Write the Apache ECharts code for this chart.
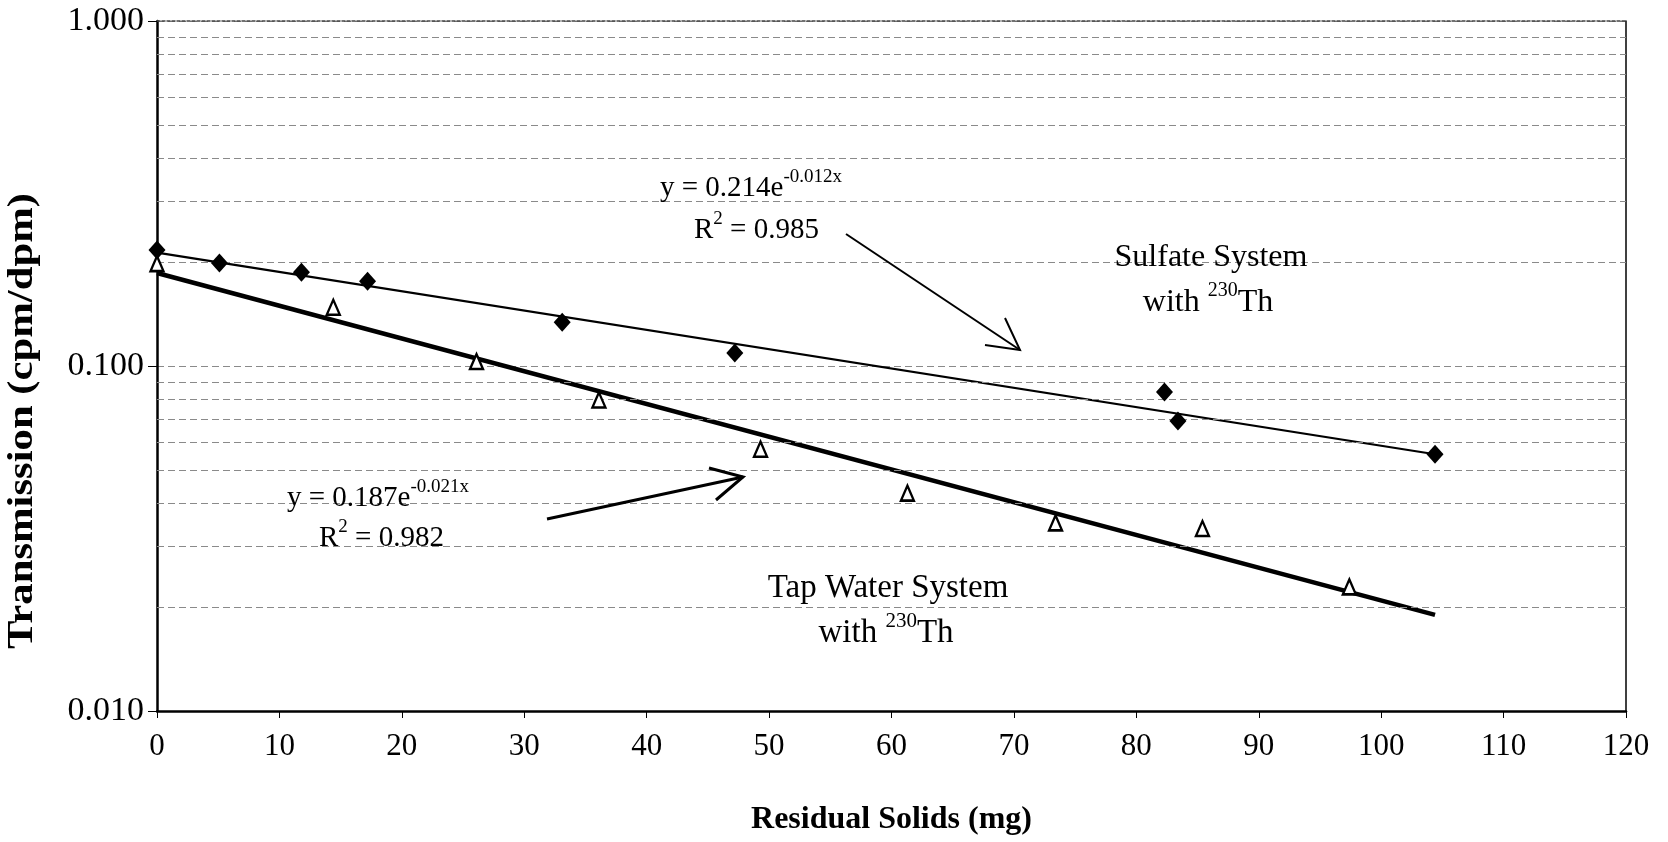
<!DOCTYPE html>
<html>
<head>
<meta charset="utf-8">
<script src="https://cdn.jsdelivr.net/npm/echarts@6/dist/echarts.min.js"></script>
<style>
html,body{margin:0;padding:0;background:#fff;}
#chart{width:1668px;height:842px;}
</style>
</head>
<body>
<div id="chart"></div>
<script>
// ---- data ----
var sulfateX = [0, 5.1, 11.8, 17.2, 33.1, 47.2, 82.3, 83.4, 104.4];
var sulfateY = [0.217, 0.199, 0.187, 0.176, 0.134, 0.109, 0.0841, 0.0693, 0.0555];
var tapX = [0, 14.4, 26.1, 36.1, 49.3, 61.3, 73.4, 85.4, 97.4];
var tapY = [0.198, 0.148, 0.103, 0.0797, 0.0574, 0.0428, 0.0351, 0.0338, 0.0229];
var sulfateTrendX = [0, 104.4];
var sulfateTrendY = [0.213, 0.0555];
var tapTrendX = [0, 104.4];
var tapTrendY = [0.186, 0.019];
var minorGridValues = [0.02,0.03,0.04,0.05,0.06,0.07,0.08,0.09,0.2,0.3,0.4,0.5,0.6,0.7,0.8,0.9];
var xTicks = {min: 0, max: 120, interval: 10};
var yRange = {min: 0.01, max: 1};

function pairs(xs, ys){ return xs.map(function(x,i){ return [x, ys[i]]; }); }

var FONT = '"Liberation Serif", "DejaVu Serif", serif';
var chart = echarts.init(document.getElementById('chart'), null, {renderer:'canvas'});

var gridStyle = {type:[7,4], color:'#8a8a8a', width:1};

function richText(x, y, text, align, mainSize){
  mainSize = mainSize || 29;
  return {
    type:'text', x:x, y:y, z:100,
    style:{
      text:text,
      align: align, verticalAlign:'middle',
      textAlign: align, textVerticalAlign:'middle',
      fill:'#000',
      rich:{
        m:{fontFamily:FONT, fontSize:mainSize, lineHeight:mainSize+6, fill:'#000', verticalAlign:'bottom'},
        s:{fontFamily:FONT, fontSize:Math.round(mainSize*0.64), lineHeight:mainSize+6, fill:'#000', verticalAlign:'top'}
      }
    }
  };
}
function plainText(x, y, txt, size){
  return {type:'text', x:x, y:y, z:100,
    style:{text:txt, font:size + 'px ' + FONT, fill:'#000', align:'center', verticalAlign:'middle', textAlign:'center', textVerticalAlign:'middle'}};
}
function arrow(x1,y1,x2,y2,h1,h2,w){
  return [
    {type:'line', z:90, shape:{x1:x1,y1:y1,x2:x2,y2:y2}, style:{stroke:'#000', lineWidth:w}},
    {type:'polyline', z:90, shape:{points:[[x2+h1[0],y2+h1[1]],[x2,y2],[x2+h2[0],y2+h2[1]]]}, style:{stroke:'#000', lineWidth:w, fill:null}}
  ];
}

var graphics = [
  richText(660, 185, '{m|y = 0.214e}{s|-0.012x}', 'left', 29),
  richText(694, 227, '{m|R}{s|2}{m| = 0.985}', 'left', 29),
  plainText(1211, 258, 'Sulfate System', 32),
  richText(1208, 300, '{m|with }{s|230}{m|Th}', 'center', 32),
  richText(287, 495, '{m|y = 0.187e}{s|-0.021x}', 'left', 29),
  richText(319, 535, '{m|R}{s|2}{m| = 0.982}', 'left', 29),
  plainText(888, 588, 'Tap Water System', 33),
  richText(886, 630, '{m|with }{s|230}{m|Th}', 'center', 33),
  {type:'text', x:23, y:421, rotation:Math.PI/2, scaleX:1.22, scaleY:1, z:100,
   style:{text:'Transmission (cpm/dpm)', font:'bold 35px ' + FONT, fill:'#000', align:'center', verticalAlign:'middle', textAlign:'center', textVerticalAlign:'middle'}}
];
graphics = graphics.concat(arrow(846,234,1020,350,[-35,-5],[-15,-32],2));
graphics = graphics.concat(arrow(547,519,743,477,[-34,-9],[-27,23],3));

var option = {
  backgroundColor:'#fff',
  animation:false,
  grid:{left:157, right:42, top:21, bottom:131, containLabel:false},
  xAxis:[{
    type:'value', min:xTicks.min, max:xTicks.max, interval:xTicks.interval,
    name:'Residual Solids (mg)', nameLocation:'middle', nameGap:93,
    nameTextStyle:{fontFamily:FONT, fontWeight:'bold', fontSize:32, color:'#000'},
    axisLine:{show:true, onZero:false, lineStyle:{color:'#000', width:2.5}},
    axisTick:{show:true, inside:false, length:7, lineStyle:{color:'#000', width:1}},
    axisLabel:{fontFamily:FONT, fontSize:31, color:'#000', margin:20},
    splitLine:{show:false}
  },{
    type:'value', position:'top', min:xTicks.min, max:xTicks.max,
    axisLine:{show:true, onZero:false, lineStyle:{color:'#444', width:1.5, type:[3,2]}},
    axisTick:{show:false}, axisLabel:{show:false}, splitLine:{show:false}
  }],
  yAxis:[{
    type:'log', logBase:10, min:yRange.min, max:yRange.max,
    axisLine:{show:true, onZero:false, lineStyle:{color:'#000', width:2.5}},
    axisTick:{show:true, inside:false, length:9, lineStyle:{color:'#000', width:1}},
    axisLabel:{fontFamily:FONT, fontSize:34, color:'#000', margin:13,
      formatter:function(v){ return Number(v).toFixed(3); }},
    splitLine:{show:true, lineStyle:gridStyle}
  },{
    type:'log', logBase:10, min:yRange.min, max:yRange.max, position:'right',
    axisLine:{show:true, onZero:false, lineStyle:{color:'#000', width:1.5}},
    axisTick:{show:false}, axisLabel:{show:false}, splitLine:{show:false}
  }],
  series:[
    {
      name:'grid', type:'line', data:[], silent:true,
      markLine:{silent:true, symbol:['none','none'], label:{show:false},
        lineStyle:gridStyle, animation:false,
        data:minorGridValues.map(function(v){ return {yAxis:v}; })}
    },
    {
      name:'Sulfate trend', type:'line', data:pairs(sulfateTrendX, sulfateTrendY),
      symbol:'none', lineStyle:{color:'#000', width:2.2}, z:3
    },
    {
      name:'Tap trend', type:'line', data:pairs(tapTrendX, tapTrendY),
      symbol:'none', lineStyle:{color:'#000', width:4.5}, z:3
    },
    {
      name:'Sulfate System', type:'scatter', data:pairs(sulfateX, sulfateY),
      symbol:'diamond', symbolSize:[17,19], itemStyle:{color:'#000', opacity:1}, z:5
    },
    {
      name:'Tap Water System', type:'scatter', data:pairs(tapX, tapY),
      symbol:'triangle', symbolSize:[13,15],
      itemStyle:{color:'#fff', borderColor:'#000', borderWidth:2.4, opacity:1}, z:5
    }
  ],
  graphic:graphics
};
chart.setOption(option);
</script>
</body>
</html>
